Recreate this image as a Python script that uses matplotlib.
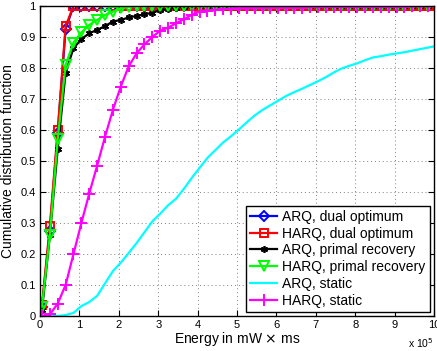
import matplotlib
matplotlib.use("Agg")
import matplotlib.pyplot as plt
import numpy as np

plt.rcParams['font.family'] = ['Liberation Sans', 'DejaVu Sans']

# Energy grid (x 10^5 mW x ms)
energy = [0.05, 0.25, 0.45, 0.65, 0.85, 1.05, 1.25, 1.45, 1.65, 1.85,
          2.05, 2.25, 2.45, 2.65, 2.85, 3.05, 3.25, 3.45, 3.65, 3.85,
          4.05, 4.25, 4.45, 4.65, 4.85, 5.05, 5.25, 5.45, 5.65, 5.85,
          6.05, 6.25, 6.45, 6.65, 6.85, 7.05, 7.25, 7.45, 7.65, 7.85,
          8.05, 8.25, 8.45, 8.65, 8.85, 9.05, 9.25, 9.45, 9.65, 9.85, 10.05]

arq_dual = [0.03, 0.275, 0.59, 0.925, 1.0, 1.0, 1.0, 1.0, 1.0, 1.0,
            1.0, 1.0, 1.0, 1.0, 1.0, 1.0, 1.0, 1.0, 1.0, 1.0,
            1.0, 1.0, 1.0, 1.0, 1.0, 1.0, 1.0, 1.0, 1.0, 1.0,
            1.0, 1.0, 1.0, 1.0, 1.0, 1.0, 1.0, 1.0, 1.0, 1.0,
            1.0, 1.0, 1.0, 1.0, 1.0, 1.0, 1.0, 1.0, 1.0, 1.0, 1.0]

harq_dual = [0.035, 0.29, 0.60, 0.935, 1.0, 1.0, 1.0, 1.0, 1.0, 1.0,
             1.0, 1.0, 1.0, 1.0, 1.0, 1.0, 1.0, 1.0, 1.0, 1.0,
             1.0, 1.0, 1.0, 1.0, 1.0, 1.0, 1.0, 1.0, 1.0, 1.0,
             1.0, 1.0, 1.0, 1.0, 1.0, 1.0, 1.0, 1.0, 1.0, 1.0,
             1.0, 1.0, 1.0, 1.0, 1.0, 1.0, 1.0, 1.0, 1.0, 1.0, 1.0]

arq_primal = [0.02, 0.26, 0.54, 0.785, 0.864, 0.893, 0.912, 0.923, 0.935, 0.95,
              0.955, 0.963, 0.968, 0.973, 0.978, 0.987, 0.99, 0.995, 0.997, 0.999,
              1.0, 1.0, 1.0, 1.0, 1.0, 1.0, 1.0, 1.0, 1.0, 1.0,
              1.0, 1.0, 1.0, 1.0, 1.0, 1.0, 1.0, 1.0, 1.0, 1.0,
              1.0, 1.0, 1.0, 1.0, 1.0, 1.0, 1.0, 1.0, 1.0, 1.0, 1.0]

harq_primal = [0.03, 0.26, 0.57, 0.81, 0.882, 0.915, 0.939, 0.955, 0.971, 0.982,
               0.992, 0.998, 1.0, 1.0, 1.0, 1.0, 1.0, 1.0, 1.0, 1.0,
               1.0, 1.0, 1.0, 1.0, 1.0, 1.0, 1.0, 1.0, 1.0, 1.0,
               1.0, 1.0, 1.0, 1.0, 1.0, 1.0, 1.0, 1.0, 1.0, 1.0,
               1.0, 1.0, 1.0, 1.0, 1.0, 1.0, 1.0, 1.0, 1.0, 1.0, 1.0]

arq_static = [0.0, 0.0, 0.0, 0.003, 0.01, 0.032, 0.045, 0.065, 0.105, 0.145,
              0.172, 0.203, 0.235, 0.27, 0.305, 0.33, 0.357, 0.378, 0.41, 0.445,
              0.478, 0.51, 0.535, 0.56, 0.58, 0.602, 0.625, 0.647, 0.665, 0.68,
              0.695, 0.71, 0.722, 0.733, 0.745, 0.757, 0.77, 0.785, 0.798, 0.807,
              0.815, 0.825, 0.834, 0.838, 0.843, 0.847, 0.851, 0.856, 0.861, 0.866, 0.871]

harq_static = [0.0, 0.005, 0.04, 0.10, 0.20, 0.30, 0.395, 0.485, 0.578, 0.665,
               0.74, 0.805, 0.847, 0.876, 0.90, 0.92, 0.93, 0.944, 0.957, 0.971,
               0.982, 0.985, 0.987, 0.99, 0.991, 0.992, 0.992, 0.993, 0.993, 0.994,
               0.994, 0.995, 0.995, 0.995, 0.996, 0.996, 0.996, 0.997, 0.997, 0.997,
               0.997, 0.998, 0.998, 0.998, 0.998, 0.998, 0.998, 0.999, 0.999, 0.999, 0.999]

labels = ['ARQ, dual optimum', 'HARQ, dual optimum', 'ARQ, primal recovery',
          'HARQ, primal recovery', 'ARQ, static', 'HARQ, static']

xticks = [0, 1, 2, 3, 4, 5, 6, 7, 8, 9, 10]
yticks = [0, 0.1, 0.2, 0.3, 0.4, 0.5, 0.6, 0.7, 0.8, 0.9, 1]
yticklabels = ['0', '0.1', '0.2', '0.3', '0.4', '0.5', '0.6', '0.7', '0.8', '0.9', '1']

fig = plt.figure(figsize=(4.37, 3.51), dpi=100)
ax = fig.add_axes([40/437, 1-316/351, 394/437, 310/351])

lw = 1.6
ax.plot(energy, arq_dual, color='#0000ff', lw=lw, marker='D', ms=5, mfc='none', mew=1.4, label=labels[0])
ax.plot(energy, harq_dual, color='#ff0000', lw=lw, marker='s', ms=6, mfc='none', mew=1.4, label=labels[1])
ax.plot(energy, arq_primal, color='black', lw=lw, marker=(6, 2, 0), ms=5, mew=1.2, label=labels[2])
ax.plot(energy, harq_primal, color='#00ff00', lw=lw, marker='v', ms=7, mfc='none', mew=1.4, label=labels[3])
ax.plot(energy, arq_static, color='#00ffff', lw=lw, label=labels[4])
ax.plot(energy, harq_static, color='#ff00ff', lw=lw, marker='+', ms=8, mew=1.4, label=labels[5])

ax.set_xlim(0, 10)
ax.set_ylim(0, 1)
ax.set_xticks(xticks)
ax.set_xticklabels([str(t) for t in xticks])
ax.set_yticks(yticks)
ax.set_yticklabels(yticklabels)
ax.tick_params(direction='in', top=True, right=True, labelsize=8, length=4, width=0.8, pad=3)
ax.grid(True, linestyle=(0, (1, 3)), color='#808080', lw=0.7)
for s in ax.spines.values():
    s.set_linewidth(1.0)
    s.set_color('black')

ax.set_xlabel('Energy in mW $\\times$ ms', fontsize=10, labelpad=0)
ax.set_ylabel('Cumulative distribution function', fontsize=10, labelpad=4)
ax.text(1.0, -0.087, 'x 10$^5$', transform=ax.transAxes, ha='right', va='center', fontsize=7.5)

leg = ax.legend(loc='lower right', fontsize=10, frameon=True, fancybox=False,
                edgecolor='black', framealpha=1, borderaxespad=0.3,
                handlelength=1.9, labelspacing=0.2, handletextpad=0.4,
                borderpad=0.3)
leg.get_frame().set_linewidth(1.0)

fig.savefig('out.png', dpi=100)
